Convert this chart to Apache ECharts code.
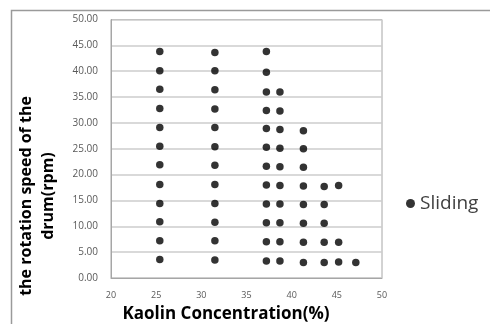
<!DOCTYPE html>
<html>
<head>
<meta charset="utf-8">
<script src="https://cdn.jsdelivr.net/npm/echarts@6/dist/echarts.min.js"></script>
<style>html,body{margin:0;padding:0;background:#fff;}#c{width:490px;height:324px;}</style>
</head>
<body>
<div id="c"></div>
<script>
// Kaolin concentration (%) of each column of points
const concentrations = [25.4, 31.5, 37.2, 38.7, 41.3, 43.6, 45.2, 47.1];
// Rotation speed of the drum (rpm) at each concentration
const speedsAt25_4 = [3.6, 7.2, 10.9, 14.4, 18.1, 21.9, 25.5, 29.1, 32.8, 36.5, 40.1, 43.8];
const speedsAt31_5 = [3.5, 7.2, 10.8, 14.4, 18.1, 21.8, 25.4, 29.1, 32.7, 36.4, 40.1, 43.6];
const speedsAt37_2 = [3.3, 7.0, 10.7, 14.3, 18.0, 21.6, 25.3, 28.9, 32.4, 36.0, 39.8, 43.8];
const speedsAt38_7 = [3.3, 7.0, 10.7, 14.3, 17.9, 21.5, 25.1, 28.7, 32.3, 36.0];
const speedsAt41_3 = [3.0, 6.9, 10.6, 14.2, 17.8, 21.4, 25.0, 28.5];
const speedsAt43_6 = [3.0, 6.9, 10.6, 14.2, 17.7];
const speedsAt45_2 = [3.1, 6.9, 17.9];
const speedsAt47_1 = [3.0];
const speedColumns = [speedsAt25_4, speedsAt31_5, speedsAt37_2, speedsAt38_7, speedsAt41_3, speedsAt43_6, speedsAt45_2, speedsAt47_1];
const xTicks = [20, 25, 30, 35, 40, 45, 50];
const seriesName = 'Sliding';
const xTitle = 'Kaolin Concentration(%)';
const yTitle = 'the rotation speed of the\ndrum(rpm)';

const points = [];
concentrations.forEach((c, i) => speedColumns[i].forEach(v => points.push([c, v])));

const chart = echarts.init(document.getElementById('c'), null, {renderer: 'canvas'});
const font = "'Open Sans', sans-serif";
chart.setOption({
  animation: false,
  backgroundColor: '#fff',
  grid: {left: 111, right: 108, top: 19.5, bottom: 46, show: true, borderColor: '#a6a6a6', borderWidth: 1},
  graphic: [{
    type: 'rect', left: 9, top: 8, shape: {width: 600, height: 400},
    style: {fill: null, stroke: '#9a9a9a', lineWidth: 1.5}, silent: true, z: -1
  }, {
    type: 'text', x: 226, y: 314, silent: true,
    style: {text: xTitle, font: "bold 17px 'Open Sans', sans-serif", fill: '#000', align: 'center', verticalAlign: 'middle'}
  }, {
    type: 'text', x: 37, y: 196, rotation: Math.PI / 2, silent: true,
    style: {text: yTitle, font: "bold 16px 'Open Sans', sans-serif", fill: '#000', align: 'center', verticalAlign: 'middle', lineHeight: 22}
  }],
  legend: {
    data: [seriesName], left: 406, top: 194, padding: 0, icon: 'circle', itemWidth: 9, itemHeight: 9, itemGap: 4,
    textStyle: {fontFamily: font, fontSize: 19, color: '#404040'}
  },
  xAxis: {
    type: 'value', min: xTicks[0], max: xTicks[xTicks.length - 1], interval: 5,
    axisLine: {show: true, lineStyle: {color: '#a6a6a6'}}, axisTick: {show: false},
    splitLine: {show: false},
    axisLabel: {fontFamily: font, fontSize: 9, color: '#595959', margin: 13}
  },
  yAxis: {
    type: 'value', min: 0, max: 50, interval: 5,
    axisLine: {show: true, lineStyle: {color: '#a6a6a6'}}, axisTick: {show: false},
    splitLine: {show: true, lineStyle: {color: '#cccccc', width: 1.5}},
    axisLabel: {fontFamily: font, fontSize: 10, color: '#595959', margin: 13, formatter: v => v.toFixed(2)}
  },
  series: [{
    name: seriesName, type: 'scatter', data: points, symbol: 'circle', symbolSize: 7.5,
    itemStyle: {color: '#000'}
  }]
});
</script>
</body>
</html>
